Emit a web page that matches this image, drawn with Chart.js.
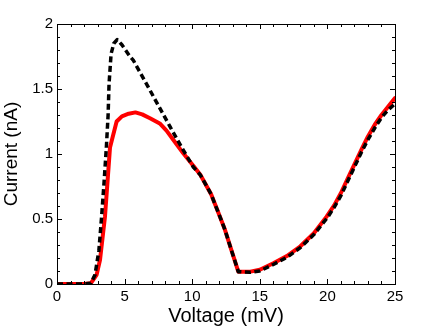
<!DOCTYPE html>
<html>
<head>
<meta charset="utf-8">
<script src="https://cdn.jsdelivr.net/npm/chart.js@4/dist/chart.umd.min.js"></script>
<style>
html,body{margin:0;padding:0;background:#fff;}
#wrap{width:436px;height:328px;position:relative;}
</style>
</head>
<body>
<div id="wrap"><canvas id="c" width="436" height="328"></canvas></div>
<script>
// Data
const redVoltage = [0, 1, 2, 2.5, 2.93, 3.18, 3.55, 3.92, 4.41, 4.8, 5.3, 5.8, 6.3, 6.88, 7.6, 8.1, 8.6, 9.34, 10.08, 10.6, 11.4, 11.93, 12.43, 12.9, 13.41, 14.3, 15.0, 16.0, 17.0, 18.0, 19.0, 19.94, 20.5, 21.0, 21.5, 22.0, 22.5, 23.0, 23.5, 24.0, 24.5, 25];
const redCurrent = [0, 0, 0, 0.005, 0.07, 0.185, 0.52, 1.05, 1.25, 1.29, 1.31, 1.32, 1.305, 1.275, 1.235, 1.18, 1.11, 1.005, 0.91, 0.84, 0.69, 0.55, 0.415, 0.26, 0.095, 0.095, 0.11, 0.16, 0.215, 0.29, 0.39, 0.518, 0.605, 0.70, 0.81, 0.92, 1.03, 1.135, 1.225, 1.30, 1.365, 1.43];
const blackVoltage = [0, 1, 2, 2.5, 2.81, 3.1, 3.3, 3.48, 3.65, 3.78, 3.85, 4.0, 4.2, 4.45, 4.8, 5.4, 5.65, 6.88, 8.36, 9.34, 10.08, 10.6, 11.4, 11.93, 12.43, 12.9, 13.41, 14.3, 15.0, 16.0, 17.0, 18.0, 19.0, 20.0, 20.5, 21.0, 21.5, 22.0, 22.5, 23.0, 23.5, 24.0, 24.5, 25];
const blackCurrent = [0, 0, 0, 0.005, 0.07, 0.26, 0.52, 0.78, 1.05, 1.3, 1.54, 1.77, 1.85, 1.88, 1.84, 1.75, 1.72, 1.49, 1.21, 1.03, 0.90, 0.84, 0.69, 0.55, 0.415, 0.26, 0.095, 0.09, 0.10, 0.15, 0.205, 0.28, 0.38, 0.51, 0.59, 0.68, 0.79, 0.90, 1.01, 1.11, 1.20, 1.28, 1.34, 1.385];
const xTicks = [0, 5, 10, 15, 20, 25];
const yTicks = [0, 0.5, 1, 1.5, 2];
const xTitle = 'Voltage (mV)';
const yTitle = 'Current (nA)';

const toPts = (xs, ys) => xs.map((x, i) => ({x: x, y: ys[i]}));

const boxTicks = {
  id: 'boxTicks',
  afterDraw(chart) {
    const ctx = chart.ctx, a = chart.chartArea;
    const xs = chart.scales.x, ys = chart.scales.y;
    ctx.save();
    ctx.strokeStyle = '#000';
    ctx.lineWidth = 1;
    ctx.strokeRect(Math.round(a.left) + 0.5, Math.round(a.top) + 0.5, Math.round(a.right - a.left), Math.round(a.bottom - a.top));
    ctx.beginPath();
    for (let k = 0; k <= 25; k++) {
      const px = Math.round(xs.getPixelForValue(k)) + 0.5;
      const L = (k % 5 === 0) ? 5 : 3;
      ctx.moveTo(px, a.bottom); ctx.lineTo(px, a.bottom - L);
      ctx.moveTo(px, a.top); ctx.lineTo(px, a.top + L);
    }
    for (let k = 0; k <= 20; k++) {
      const py = Math.round(ys.getPixelForValue(k / 10)) + 0.5;
      const L = (k % 5 === 0) ? 5 : 3;
      ctx.moveTo(a.left, py); ctx.lineTo(a.left + L, py);
      ctx.moveTo(a.right, py); ctx.lineTo(a.right - L, py);
    }
    ctx.stroke();
    ctx.restore();
  }
};

const FAM = 'Liberation Sans, Arial, Helvetica, sans-serif';

new Chart(document.getElementById('c'), {
  type: 'line',
  data: {
    datasets: [
      {
        data: toPts(blackVoltage, blackCurrent),
        borderColor: '#000',
        borderWidth: 3.5,
        borderDash: [6, 3.5],
        borderCapStyle: 'butt',
        borderJoinStyle: 'round',
        pointRadius: 0,
        fill: false,
        tension: 0
      },
      {
        data: toPts(redVoltage, redCurrent),
        borderColor: '#ff0000',
        borderWidth: 4,
        borderJoinStyle: 'round',
        borderCapStyle: 'round',
        pointRadius: 0,
        fill: false,
        tension: 0
      }
    ]
  },
  options: {
    responsive: false,
    animation: false,
    devicePixelRatio: 1,
    layout: {padding: {left: 0, right: 41, top: 24, bottom: 0}},
    plugins: {legend: {display: false}, tooltip: {enabled: false}},
    scales: {
      x: {
        type: 'linear',
        min: 0, max: 25,
        afterFit(s) { s.height = 44; },
        afterBuildTicks(s) { s.ticks = xTicks.map(v => ({value: v})); },
        grid: {display: false, drawTicks: false},
        border: {display: false},
        ticks: {
          padding: 4,
          maxRotation: 0,
          color: '#000',
          font: {family: FAM, size: 15},
          callback: v => String(v)
        },
        title: {
          display: true, text: xTitle, color: '#000',
          font: {family: FAM, size: 20},
          padding: {top: 0, bottom: 0}
        }
      },
      y: {
        type: 'linear',
        min: 0, max: 2,
        afterFit(s) { s.width = 57; },
        afterBuildTicks(s) { s.ticks = yTicks.map(v => ({value: v})); },
        grid: {display: false, drawTicks: false},
        border: {display: false},
        ticks: {
          padding: 4,
          color: '#000',
          font: {family: FAM, size: 15},
          callback: v => String(v)
        },
        title: {
          display: true, text: yTitle, color: '#000',
          font: {family: FAM, size: 19},
          padding: {top: 0, bottom: 0}
        }
      }
    }
  },
  plugins: [boxTicks]
});
</script>
</body>
</html>
